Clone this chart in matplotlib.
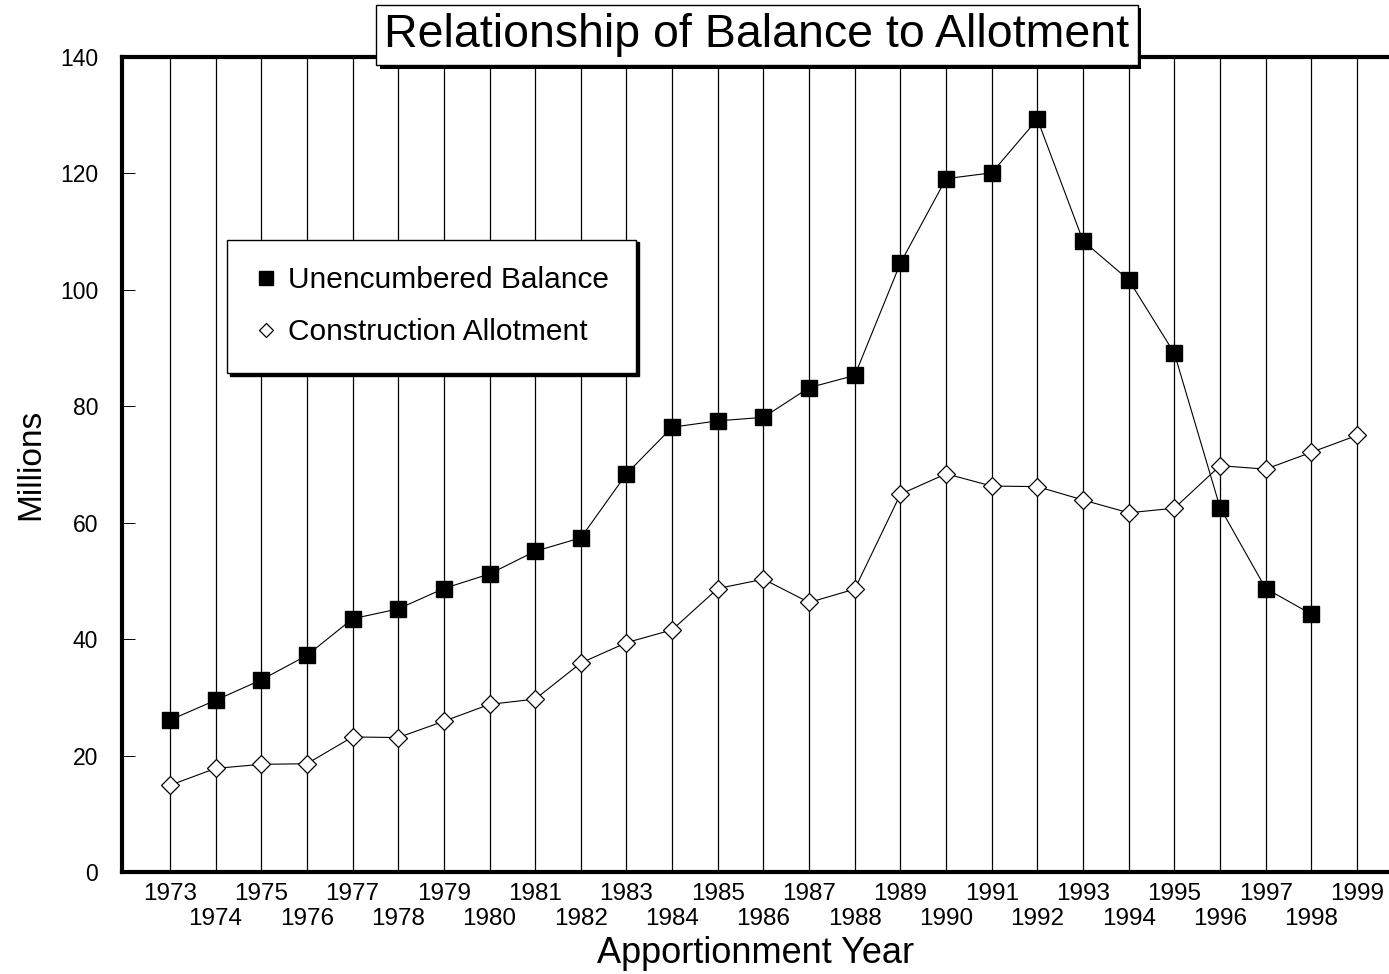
import numpy as np
import matplotlib
matplotlib.use("Agg")
import matplotlib.pyplot as plt
from matplotlib.lines import Line2D
import matplotlib.patheffects as pe

# data (millions)
years = list(range(1973, 2000))
balance_years = list(range(1973, 1999))
balance = [26.1, 29.5, 33.0, 37.2, 43.5, 45.2, 48.7, 51.2, 55.1, 57.4,
           68.4, 76.4, 77.5, 78.1, 83.2, 85.3, 104.6, 119.1, 120.1, 129.3,
           108.4, 101.7, 89.1, 62.6, 48.7, 44.3]
allotment = [14.9, 17.8, 18.5, 18.6, 23.2, 23.1, 25.9, 28.8, 29.7, 35.9,
             39.4, 41.6, 48.7, 50.3, 46.3, 48.6, 64.9, 68.4, 66.3, 66.2,
             63.9, 61.7, 62.5, 69.8, 69.2, 72.1, 75.0]
yticks = [0, 20, 40, 60, 80, 100, 120, 140]

plt.rcParams['font.family'] = ['Liberation Sans', 'DejaVu Sans']

fig = plt.figure(figsize=(13.89, 9.74), dpi=100)
ax = fig.add_axes([0.0878, 0.1047, 0.9122, 0.8368])

# vertical line at every year
for yr in years:
    ax.axvline(yr, color='black', lw=0.9, zorder=1)

ax.plot(balance_years, balance, color='black', lw=0.8, marker='s', ms=11.5,
        mfc='black', mec='black', zorder=3)
ax.plot(years, allotment, color='black', lw=0.8, marker='D', ms=9,
        mfc='white', mec='black', mew=0.9, zorder=3)

ax.set_xlim(1971.95, 1999.7)
ax.set_ylim(0, 140)

ax.set_yticks(yticks)
ax.tick_params(axis='y', direction='in', length=9, width=0.7, pad=17, labelsize=16.5)

# staggered year labels: odd years on the upper row, even years below
odd_years = [y for y in years if y % 2]
even_years = [y for y in years if not y % 2]
ax.set_xticks(odd_years, [str(y) for y in odd_years])
ax.set_xticks(even_years, [str(y) for y in even_years], minor=True)
ax.tick_params(axis='x', which='major', length=0, pad=8, labelsize=17.5)
ax.tick_params(axis='x', which='minor', length=0, pad=26, labelsize=17.5)

for s in ['left', 'bottom', 'top']:
    ax.spines[s].set_linewidth(3)
ax.spines['right'].set_visible(False)

ax.set_ylabel('Millions', fontsize=24, labelpad=10)
ax.set_xlabel('Apportionment Year', fontsize=26, labelpad=4)

# legend shows markers only
handles = [Line2D([], [], ls='none', marker='s', ms=10.5, mfc='black', mec='black'),
           Line2D([], [], ls='none', marker='D', ms=7.5, mfc='white', mec='black', mew=0.9)]
leg = ax.legend(handles, ['Unencumbered Balance', 'Construction Allotment'],
                loc='upper left', bbox_to_anchor=(0.083, 0.776), borderaxespad=0,
                fontsize=21.5, frameon=True, fancybox=False, handlelength=0.8,
                handletextpad=0.35, labelspacing=0.8, borderpad=0.9,
                shadow={'color': 'black', 'alpha': 1})
leg.get_frame().set_edgecolor('black')
leg.get_frame().set_linewidth(1.0)
leg.set_zorder(5)

title = fig.text(0.545, 0.964, 'Relationship of Balance to Allotment',
                 ha='center', va='center', fontsize=33.5,
                 bbox=dict(boxstyle='square,pad=0.18', fc='white', ec='black', lw=1.0))
title.get_bbox_patch().set_path_effects(
    [pe.withSimplePatchShadow(offset=(2.5, -2.5), shadow_rgbFace='black', alpha=1)])

fig.savefig('out.png', dpi=100)
